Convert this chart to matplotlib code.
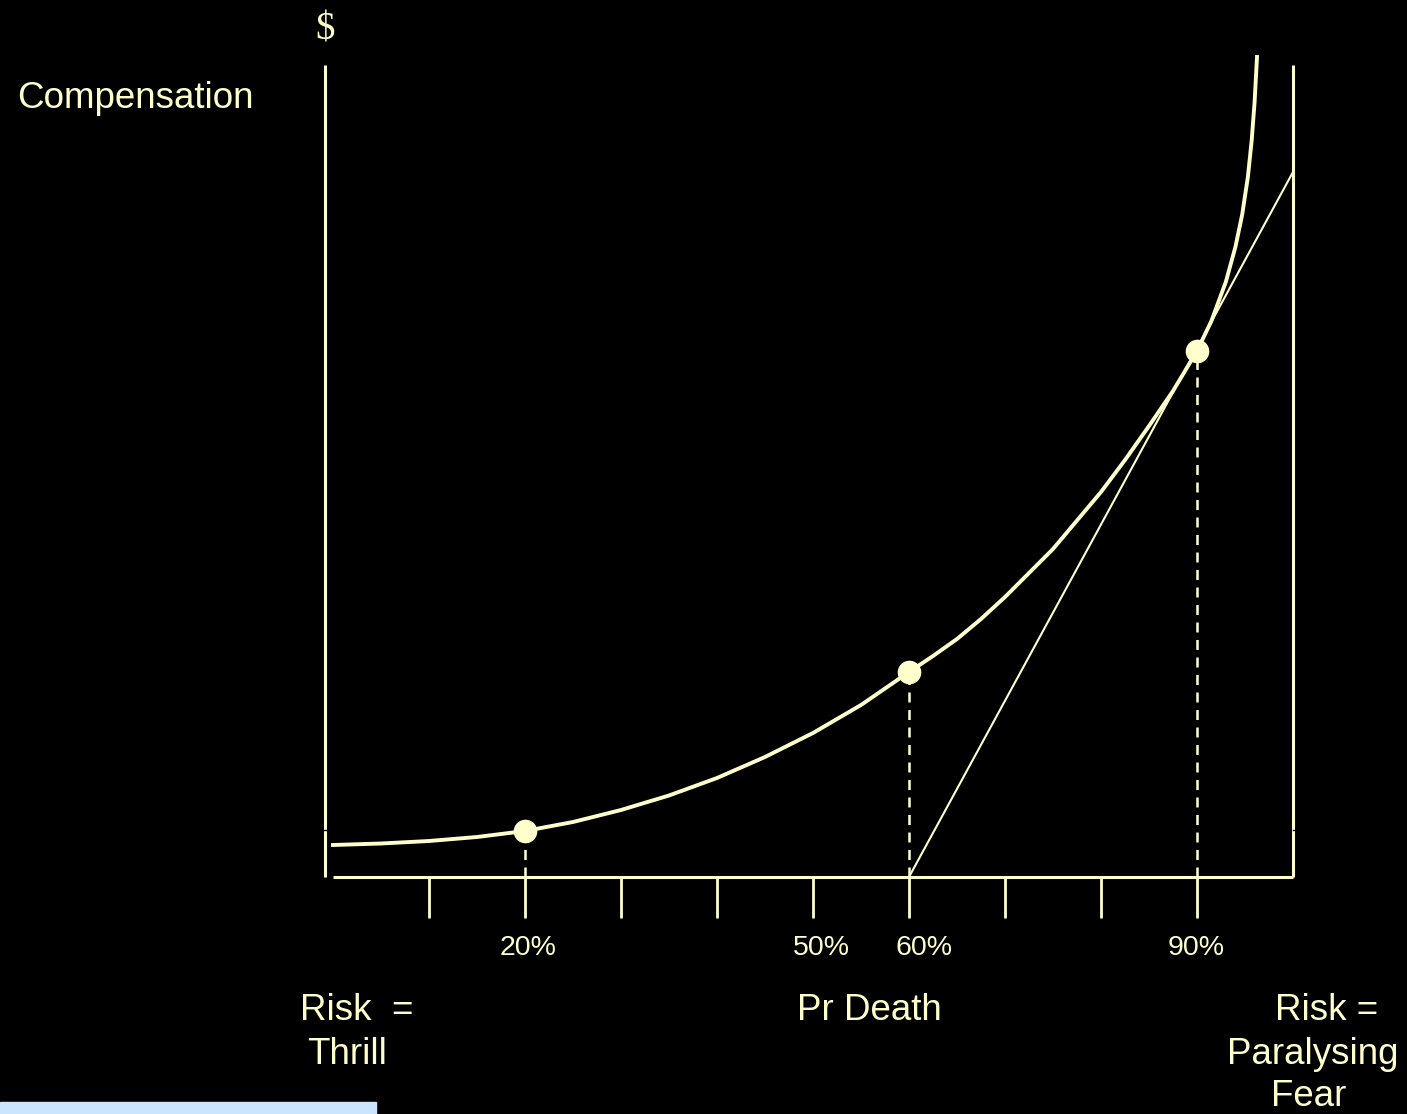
# -*- coding: utf-8 -*-
# risk_compensation.py

import matplotlib.pyplot as plt
from matplotlib.patches import Rectangle

#%% Data

# compensation curve (x = Pr death, y = $ above axis)
curve_p = [0.0, 0.05, 0.1, 0.15, 0.2, 0.25, 0.3, 0.35, 0.4, 0.45,
           0.5, 0.55, 0.6, 0.625, 0.65, 0.675, 0.7, 0.75, 0.8, 0.825,
           0.85, 0.875, 0.9, 0.915, 0.93, 0.94, 0.947, 0.953, 0.957,
           0.96, 0.9625]
curve_y = [32, 33.5, 36, 40, 46, 55, 67, 81.5, 99, 120,
           144, 172, 205, 221, 238, 258, 280, 328, 385, 417,
           451, 486, 526, 556, 595, 630, 662, 700, 737,
           775, 820]

# marked points on the curve
point_p = [0.2, 0.6, 0.9]
point_y = [46, 205, 526]

# straight line from 60% on the axis through the 90% point
line_p = [0.6, 1.0]
line_y = [0, 705]

tick_p = [0.1, 0.2, 0.3, 0.4, 0.5, 0.6, 0.7, 0.8, 0.9]
label_p = [0.203, 0.509, 0.616, 0.899]
label_txt = ['20%', '50%', '60%', '90%']

CREAM = '#FFFFCC'
FONT = 'Liberation Sans'
BIG = 26.5

#%% Plot

fig = plt.figure(figsize=(14.07, 11.14), dpi=100, facecolor='black')
ax = fig.add_axes([0, 0, 1, 1])
ax.set_facecolor('black')
ax.set_xlim(-333 / 960, (1407 - 333) / 960)
ax.set_ylim(-237, 877)
ax.axis('off')

# axes frame
ax.plot([-0.0083, -0.0083], [0, 812], color=CREAM, lw=2.2, solid_capstyle='butt')
ax.plot([0, 1.0], [0, 0], color=CREAM, lw=2.2, solid_capstyle='butt')
ax.plot([1.0, 1.0], [0, 812], color=CREAM, lw=2.2, solid_capstyle='butt')
ax.plot([-0.013, -0.004], [47, 47], color='black', lw=1.0)
ax.plot([1.0, 1.004], [47, 47], color='black', lw=1.0)

for p in tick_p:
    ax.plot([p, p], [0, -41], color=CREAM, lw=2.0, solid_capstyle='butt')

# drop lines
for p, y in zip(point_p, point_y):
    ax.plot([p, p], [0, y], color=CREAM, lw=1.8, dashes=(4, 3))

ax.plot(line_p, line_y, color=CREAM, lw=1.5)
ax.plot(curve_p, curve_y, color=CREAM, lw=2.8, solid_joinstyle='round')
ax.plot(point_p, point_y, 'o', color=CREAM, ms=16, mec=CREAM)

# texts
ax.text(-0.0083, 847, '$', color=CREAM, fontsize=28, family='Liberation Serif',
        ha='center', va='center')
ax.text(-0.329, 779, 'Compensation', color=CREAM, fontsize=BIG, family=FONT,
        ha='left', va='center')
for p, t in zip(label_p, label_txt):
    ax.text(p, -71, t, color=CREAM, fontsize=20.5, family=FONT,
            ha='center', va='center')
ax.text(-0.034, -133, 'Risk  =', color=CREAM, fontsize=BIG, family=FONT,
        ha='left', va='center')
ax.text(-0.027, -178, 'Thrill', color=CREAM, fontsize=BIG, family=FONT,
        ha='left', va='center')
ax.text(0.559, -133, 'Pr Death', color=CREAM, fontsize=BIG, family=FONT,
        ha='center', va='center')
ax.text(1.035, -133, 'Risk =', color=CREAM, fontsize=BIG, family=FONT,
        ha='center', va='center')
ax.text(1.021, -178, 'Paralysing', color=CREAM, fontsize=BIG, family=FONT,
        ha='center', va='center')
ax.text(1.016, -219, 'Fear', color=CREAM, fontsize=BIG, family=FONT,
        ha='center', va='center')

# light blue strip in the lower left corner
fig.patches.append(Rectangle((0, 0), 376 / 1407, 12 / 1114,
                             transform=fig.transFigure, color='#CCE5FF',
                             zorder=0))

plt.savefig('out.png', dpi=100, facecolor='black')
